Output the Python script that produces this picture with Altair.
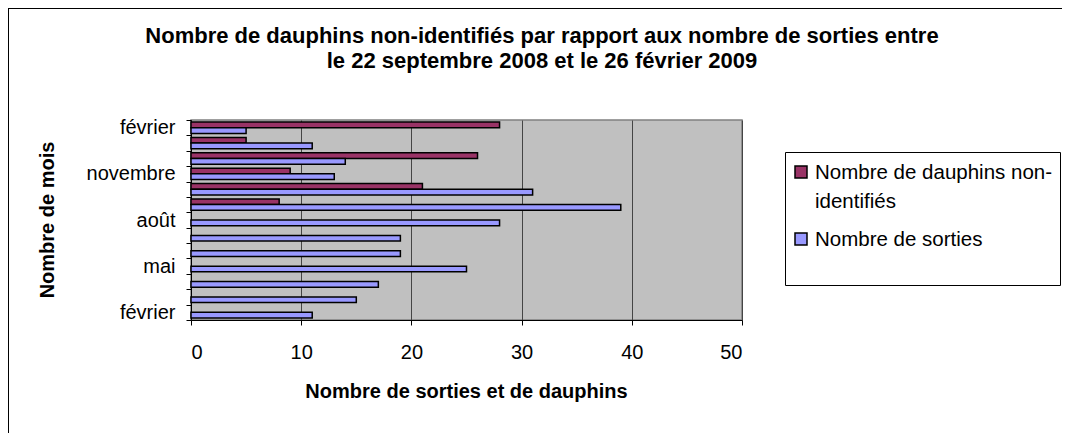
import altair as alt
import pandas as pd

# ---- data ----
months = ["février 2008", "mars 2008", "avril 2008", "mai 2008", "juin 2008",
          "juillet 2008", "août 2008", "septembre 2008", "octobre 2008",
          "novembre 2008", "décembre 2008", "janvier 2009", "février 2009"]
month_labels = ["février", "", "", "mai", "", "", "août", "", "", "novembre", "", "", "février"]
sorties = [11, 15, 17, 25, 19, 19, 28, 39, 31, 13, 14, 11, 5]
dauphins = [None, None, None, None, None, None, None, 8, 21, 9, 26, 5, 28]
series = ["Nombre de dauphins non-identifiés", "Nombre de sorties"]
colors = ["#993366", "#9999FF"]
x_ticks = [0, 10, 20, 30, 40, 50]
title_lines = ["Nombre de dauphins non-identifiés par rapport aux nombre de sorties entre",
               "le 22 septembre 2008 et le 26 février 2009"]
x_title = "Nombre de sorties et de dauphins"
y_title = "Nombre de mois"
legend_lines = ["Nombre de dauphins non-", "identifiés", "Nombre de sorties"]

rows = []
for m, d, s in zip(months, dauphins, sorties):
    if d is not None:
        rows.append({"month": m, "series": series[0], "value": d})
    rows.append({"month": m, "series": series[1], "value": s})
df = pd.DataFrame(rows)

label_expr = " : ".join(
    f"datum.value == '{m}' ? '{l}'" for m, l in zip(months, month_labels) if l
) + " : ''"

FONT = "Liberation Sans"
W, H = 551, 200

bars = alt.Chart(df).mark_bar(stroke="black", strokeWidth=1.5).encode(
    x=alt.X("value:Q",
            scale=alt.Scale(domain=[0, 50], nice=False),
            axis=alt.Axis(values=x_ticks, title=None, grid=True, gridColor="#454545",
                          gridWidth=1, domainColor="black", tickColor="black",
                          tickSize=5, labelFontSize=20, labelPadding=17,
                          labelColor="black", labelFont=FONT)),
    y=alt.Y("month:N", sort=months[::-1],
            scale=alt.Scale(paddingInner=0, paddingOuter=0),
            axis=alt.Axis(title=None, labelExpr=label_expr, tickBand="extent",
                          domainColor="black", tickColor="black", tickSize=5,
                          labelFontSize=20, labelPadding=11, labelColor="black",
                          labelFont=FONT, grid=False)),
    yOffset=alt.YOffset("series:N", sort=series,
                        scale=alt.Scale(paddingInner=0, paddingOuter=0.35)),
    color=alt.Color("series:N", sort=series,
                    scale=alt.Scale(domain=series, range=colors), legend=None),
)

one = pd.DataFrame({"k": [0]})
base = alt.Chart(one)

frame_left = base.mark_rule(color="black", strokeWidth=1).encode(
    x=alt.value(-182.5), y=alt.value(-112), y2=alt.value(400))
frame_top = base.mark_rule(color="black", strokeWidth=1).encode(
    x=alt.value(-183), x2=alt.value(1000), y=alt.value(-111.5))

title1 = base.mark_text(font=FONT, fontSize=22, fontWeight="bold", align="center",
                        baseline="alphabetic", color="black").encode(
    x=alt.value(351), y=alt.value(-77), text=alt.value(title_lines[0]))
title2 = base.mark_text(font=FONT, fontSize=22, fontWeight="bold", align="center",
                        baseline="alphabetic", color="black").encode(
    x=alt.value(351), y=alt.value(-52), text=alt.value(title_lines[1]))

xt = base.mark_text(font=FONT, fontSize=20, fontWeight="bold", align="center",
                    baseline="middle", color="black").encode(
    x=alt.value(W / 2), y=alt.value(272), text=alt.value(x_title))
yt = base.mark_text(font=FONT, fontSize=20, fontWeight="bold", align="center",
                    baseline="middle", angle=270, color="black").encode(
    x=alt.value(-143), y=alt.value(H / 2), text=alt.value(y_title))

leg_box = base.mark_rect(fill="white", stroke="black", strokeWidth=1).encode(
    x=alt.value(594.5), x2=alt.value(869.5), y=alt.value(32.5), y2=alt.value(165.5))
sw1 = base.mark_rect(fill=colors[0], stroke="black", strokeWidth=1.5).encode(
    x=alt.value(604), x2=alt.value(616), y=alt.value(46), y2=alt.value(58))
sw2 = base.mark_rect(fill=colors[1], stroke="black", strokeWidth=1.5).encode(
    x=alt.value(604), x2=alt.value(616), y=alt.value(113), y2=alt.value(125))
lt = [
    base.mark_text(font=FONT, fontSize=20.5, align="left", baseline="alphabetic",
                   color="black").encode(x=alt.value(624), y=alt.value(yy),
                                         text=alt.value(t))
    for t, yy in zip(legend_lines, [59, 88, 126])
]

chart = alt.layer(frame_left, frame_top, bars, title1, title2, xt, yt,
                  leg_box, sw1, sw2, *lt).properties(
    width=W, height=H,
    autosize="none",
    padding={"left": 183, "top": 112, "right": 320, "bottom": 113},
).configure(
    font=FONT,
    view=alt.ViewConfig(fill="#C0C0C0", stroke="#808080", strokeWidth=1.5),
)

chart.save("out.html", embed_options={"renderer": "svg", "actions": False})
